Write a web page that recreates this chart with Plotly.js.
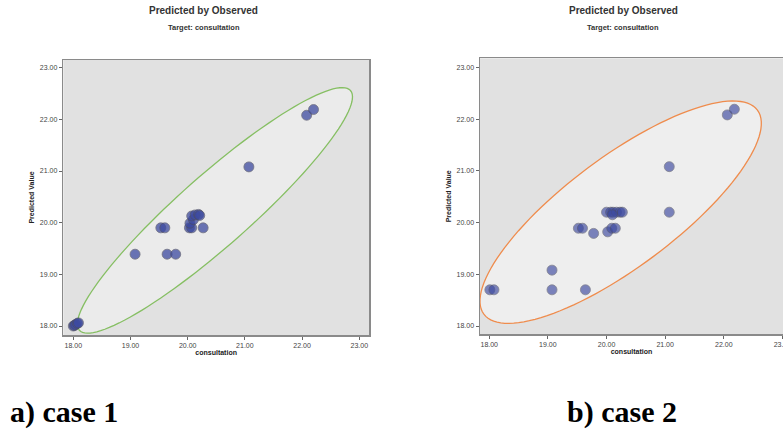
<!DOCTYPE html>
<html>
<head>
<meta charset="utf-8">
<script src="https://cdn.plot.ly/plotly-3.0.1.min.js"></script>
<style>html,body{margin:0;padding:0;background:#fff;}#chart{width:783px;height:432px;}</style>
</head>
<body>
<div id="chart"></div>
<script>
// ---- Data ----
const case1Observed  = [18.00, 18.02, 18.04, 18.07, 18.09, 19.08, 19.53, 19.60, 19.64, 19.79, 20.03, 20.07, 20.27, 20.04, 20.10, 20.07, 20.13, 20.19, 20.21, 21.07, 22.08, 22.20];
const case1Predicted = [18.00, 18.01, 18.03, 18.05, 18.06, 19.39, 19.90, 19.90, 19.39, 19.39, 19.90, 19.90, 19.90, 19.99, 20.06, 20.13, 20.15, 20.16, 20.14, 21.08, 22.08, 22.19];

const case2Observed  = [18.01, 18.08, 19.07, 19.07, 19.64, 19.52, 19.59, 19.78, 20.02, 20.09, 20.15, 20.00, 20.07, 20.11, 20.17, 20.23, 20.27, 20.10, 21.07, 21.07, 22.06, 22.18];
const case2Predicted = [18.70, 18.70, 19.08, 18.70, 18.70, 19.89, 19.89, 19.79, 19.82, 19.89, 19.89, 20.20, 20.20, 20.20, 20.20, 20.20, 20.20, 20.15, 20.20, 21.08, 22.08, 22.19];

const tickValues = [18, 19, 20, 21, 22, 23];
const tickLabels = ["18.00", "19.00", "20.00", "21.00", "22.00", "23.00"];

const chartTitle = "Predicted by Observed";
const chartSubtitle = "Target: consultation";
const xTitle = "consultation";
const yTitle = "Predicted Value";
const captions = ["a) case 1", "b) case 2"];

// Ellipse outlines (center and two conjugate semi-axis vectors, data units)
const ellipse1 = {cx: 20.476, cy: 20.238, ux: 2.370, uy: 2.320, vx: -0.411, vy: 0.514};
const ellipse2 = {cx: 20.241, cy: 20.200, ux: 2.333, uy: 1.972, vx: -0.561, vy: 0.854};

function ellipsePath(e) {
  const n = 120;
  let d = "";
  for (let i = 0; i <= n; i++) {
    const t = 2 * Math.PI * i / n;
    const x = e.cx + e.ux * Math.cos(t) + e.vx * Math.sin(t);
    const y = e.cy + e.uy * Math.cos(t) + e.vy * Math.sin(t);
    d += (i === 0 ? "M" : "L") + x.toFixed(4) + "," + y.toFixed(4);
  }
  return d + "Z";
}

const markerStyle = (op) => ({
  size: 10,
  color: "#3d4aa0",
  opacity: op,
  line: {color: "#4d4d5e", width: 0.8}
});

const traces = [
  {type: "scatter", mode: "markers", x: case1Observed, y: case1Predicted, xaxis: "x", yaxis: "y",
   marker: markerStyle(0.75), hoverinfo: "x+y", showlegend: false},
  {type: "scatter", mode: "markers", x: case2Observed, y: case2Predicted, xaxis: "x2", yaxis: "y2",
   marker: markerStyle(0.66), hoverinfo: "x+y", showlegend: false}
];

const tickFont = {family: "Liberation Sans, Arial, sans-serif", size: 7, color: "#444"};
const axTitleFont = {family: "Liberation Sans, Arial, sans-serif", size: 7, color: "#222"};

function xAxis(domain, range, mirror, anchor) {
  return {
    domain: domain, range: range, anchor: anchor, tickvals: tickValues, ticktext: tickLabels,
    ticks: "outside", ticklen: 3, tickcolor: "#666", tickwidth: 1,
    showgrid: false, zeroline: false, showline: true, linecolor: "#8a8a8a", linewidth: 1.5,
    mirror: mirror, tickfont: tickFont, ticklabeloverflow: "allow",
    title: {text: "<b>" + xTitle + "</b>", font: axTitleFont, standoff: 2}
  };
}
function yAxis(domain, range, mirror, anchor) {
  return {
    domain: domain, range: range, anchor: anchor, tickvals: tickValues, ticktext: tickLabels,
    ticks: "outside", ticklen: 3, tickcolor: "#666", tickwidth: 1,
    showgrid: false, zeroline: false, showline: true, linecolor: "#8a8a8a", linewidth: 1.5,
    mirror: mirror, tickfont: tickFont,
    title: {text: "<b>" + yTitle + "</b>", font: axTitleFont, standoff: 4}
  };
}

const titleFont = {family: "Liberation Sans, Arial, sans-serif", size: 10, color: "#333"};
const subFont = {family: "Liberation Sans, Arial, sans-serif", size: 7.5, color: "#333"};
const capFont = {family: "Liberation Serif, Times New Roman, serif", size: 30, color: "#000"};

const layout = {
  width: 783, height: 432,
  margin: {l: 0, r: 0, t: 0, b: 0},
  paper_bgcolor: "#ffffff",
  plot_bgcolor: "#e1e1e1",
  showlegend: false,
  xaxis: xAxis([63.3 / 783, 369 / 783], [17.825, 23.17], true, "y"),
  yaxis: yAxis([1 - 335 / 432, 1 - 60 / 432], [17.826, 23.149], true, "x"),
  xaxis2: xAxis([480 / 783, 1], [17.842, 23.01], true, "y2"),
  yaxis2: yAxis([1 - 334.3 / 432, 1 - 58.3 / 432], [17.84, 23.174], false, "x2"),
  shapes: [
    {type: "path", xref: "x", yref: "y", path: ellipsePath(ellipse1), layer: "below",
     fillcolor: "#ebebeb", line: {color: "#86bf63", width: 1.3}},
    {type: "path", xref: "x2", yref: "y2", path: ellipsePath(ellipse2), layer: "below",
     fillcolor: "#eeeeee", line: {color: "#ef8c4d", width: 1.3}}
  ],
  annotations: [
    {text: "<b>" + chartTitle + "</b>", xref: "paper", yref: "paper", x: 204 / 783, y: 1 - 11 / 432,
     xanchor: "center", yanchor: "middle", showarrow: false, font: titleFont},
    {text: "<b>" + chartSubtitle + "</b>", xref: "paper", yref: "paper", x: 204 / 783, y: 1 - 27 / 432,
     xanchor: "center", yanchor: "middle", showarrow: false, font: subFont},
    {text: "<b>" + chartTitle + "</b>", xref: "paper", yref: "paper", x: 623 / 783, y: 1 - 11 / 432,
     xanchor: "center", yanchor: "middle", showarrow: false, font: titleFont},
    {text: "<b>" + chartSubtitle + "</b>", xref: "paper", yref: "paper", x: 623 / 783, y: 1 - 27 / 432,
     xanchor: "center", yanchor: "middle", showarrow: false, font: subFont},
    {text: "<b>" + captions[0] + "</b>", xref: "paper", yref: "paper", x: 8 / 783, y: 1 - 412 / 432,
     xanchor: "left", yanchor: "middle", showarrow: false, font: capFont},
    {text: "<b>" + captions[1] + "</b>", xref: "paper", yref: "paper", x: 565 / 783, y: 1 - 412 / 432,
     xanchor: "left", yanchor: "middle", showarrow: false, font: capFont}
  ]
};

Plotly.newPlot("chart", traces, layout, {staticPlot: true, displayModeBar: false});
</script>
</body>
</html>
